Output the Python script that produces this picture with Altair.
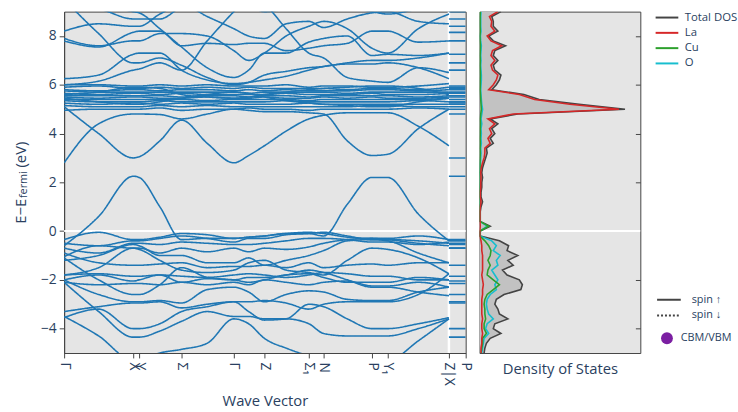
import altair as alt
import pandas as pd

FONT = "Open Sans"
TXT = "#2a3f5f"
AX = "#444444"

# ---------------- band structure data ----------------
K_NODES = [0.00, 0.35, 0.70, 0.76, 0.97, 1.19, 1.45, 1.72, 1.87, 2.03, 2.25, 2.48, 2.63, 2.87, 3.12, 3.28, 3.59, 3.90]
K_XP = [3.90, 4.07]
TICK_K = [0.0, 0.7, 0.76, 1.19, 1.72, 2.03, 2.48, 2.63, 3.12, 3.28, 3.9, 4.07]
TICK_LABELS = ["Γ", "X", "Y", "Σ", "Γ", "Z", "Σ₁", "N", "P", "Y₁", "Z|X", "P"]
Y_TICKS = [-4, -2, 0, 2, 4, 6, 8]

BANDS = [
    [-0.6, 0.6, 2.25, 2.2, 1.0, -0.35, -0.3, -0.3, -0.25, -0.2, -0.1, -0.1, -0.2, 1.1, 2.2, 2.2, 0.7, -0.4],
    [2.8, 4.4, 4.8, 4.8, 4.78, 4.6, 4.8, 5.0, 4.95, 4.9, 4.9, 4.85, 4.8, 3.7, 3.1, 3.15, 4.2, 5.0],
    [5.1, 4.0, 3.0, 3.05, 3.7, 4.55, 3.6, 2.8, 3.1, 3.5, 4.1, 4.6, 4.75, 4.85, 4.85, 4.85, 4.3, 3.5],
    [6.25, 6.4, 7.25, 7.3, 7.3, 6.6, 6.2, 6.05, 6.1, 6.2, 6.35, 6.6, 6.75, 6.85, 6.85, 6.9, 6.7, 6.25],
    [7.8, 7.55, 8.15, 8.2, 8.2, 7.6, 7.7, 7.65, 7.7, 7.7, 7.4, 7.5, 7.6, 7.7, 8.2, 8.2, 7.75, 7.8],
    [8.2, 8.5, 8.4, 8.4, 8.9, 9.3, 8.8, 8.3, 8.0, 7.9, 8.5, 8.6, 8.35, 8.7, 8.95, 9.0, 8.6, 8.5],
    [9.5, 8.1, 6.9, 6.9, 7.1, 6.8, 6.3, 6.0, 6.1, 6.4, 6.55, 6.7, 6.75, 6.9, 7.0, 7.0, 7.1, 7.3],
    [9.8, 9.3, 9.0, 8.95, 8.3, 7.55, 6.7, 6.3, 6.6, 7.3, 7.3, 7.75, 7.9, 8.0, 7.2, 7.25, 7.2, 7.3],
    [6.0, 6.15, 6.6, 6.65, 6.9, 6.6, 7.8, 9.0, 9.6, 9.3, 8.3, 7.3, 7.1, 6.3, 6.15, 6.1, 6.7, 6.5],
    [7.9, 7.6, 7.8, 7.8, 8.1, 8.1, 8.0, 7.4, 7.0, 7.3, 8.0, 8.4, 8.6, 8.3, 7.5, 7.3, 8.3, 8.9],
    [9.2, 9.1, 8.7, 8.7, 8.7, 9.2, 9.5, 9.5, 9.3, 9.0, 9.1, 9.2, 9.3, 9.2, 9.0, 8.9, 9.1, 9.2],
    [6.0, 6.0, 5.95, 5.95, 6.0, 5.95, 6.0, 5.95, 5.95, 5.95, 6.0, 5.9, 5.95, 5.95, 5.9, 5.9, 5.95, 6.05],
    [5.9, 5.95, 5.85, 5.85, 5.9, 5.85, 5.9, 5.85, 5.9, 5.85, 5.85, 5.85, 5.85, 5.8, 5.85, 5.85, 5.8, 5.9],
    [5.8, 5.75, 5.8, 5.8, 5.75, 5.8, 5.8, 5.75, 5.8, 5.75, 5.8, 5.75, 5.75, 5.75, 5.8, 5.8, 5.75, 5.8],
    [5.75, 5.7, 5.7, 5.7, 5.7, 5.7, 5.7, 5.7, 5.65, 5.7, 5.7, 5.7, 5.7, 5.65, 5.7, 5.7, 5.7, 5.7],
    [5.65, 5.6, 5.65, 5.65, 5.6, 5.65, 5.6, 5.6, 5.6, 5.6, 5.65, 5.6, 5.6, 5.6, 5.65, 5.6, 5.6, 5.65],
    [5.55, 5.55, 5.55, 5.55, 5.55, 5.5, 5.55, 5.55, 5.5, 5.55, 5.55, 5.5, 5.55, 5.55, 5.55, 5.55, 5.5, 5.55],
    [5.5, 5.45, 5.5, 5.5, 5.45, 5.45, 5.5, 5.45, 5.45, 5.5, 5.45, 5.45, 5.5, 5.45, 5.5, 5.45, 5.45, 5.5],
    [5.4, 5.4, 5.4, 5.4, 5.4, 5.4, 5.35, 5.4, 5.4, 5.4, 5.4, 5.35, 5.4, 5.4, 5.4, 5.4, 5.4, 5.45],
    [5.35, 5.3, 5.3, 5.3, 5.35, 5.3, 5.3, 5.3, 5.3, 5.3, 5.35, 5.3, 5.3, 5.3, 5.3, 5.3, 5.35, 5.3],
    [5.25, 5.2, 5.25, 5.25, 5.2, 5.25, 5.2, 5.25, 5.2, 5.2, 5.2, 5.25, 5.2, 5.2, 5.2, 5.2, 5.2, 5.2],
    [5.15, 5.1, 5.1, 5.1, 5.15, 5.1, 5.15, 5.1, 5.1, 5.1, 5.1, 5.1, 5.1, 5.1, 5.15, 5.15, 5.1, 5.1],
    [4.95, 5.0, 5.0, 5.0, 5.05, 4.95, 5.0, 5.0, 5.05, 5.0, 5.0, 4.95, 5.0, 5.0, 5.0, 5.0, 5.05, 5.0],
    [5.6, 5.7, 5.9, 5.9, 5.85, 5.6, 5.5, 5.45, 5.5, 5.6, 5.7, 5.8, 5.85, 5.9, 5.95, 5.95, 5.85, 5.6],
    [5.45, 5.3, 5.2, 5.2, 5.3, 5.45, 5.6, 5.7, 5.65, 5.5, 5.35, 5.25, 5.2, 5.15, 5.1, 5.1, 5.3, 5.45],
    [-0.35, -0.05, -0.35, -0.35, -0.25, -0.1, -0.15, -0.3, -0.25, -0.2, -0.1, -0.05, -0.1, -0.25, -0.3, -0.3, -0.2, -0.35],
    [-0.5, -0.6, -0.4, -0.4, -0.3, -0.2, -0.3, -0.45, -0.3, -0.3, -0.15, -0.1, -0.05, -0.2, -0.35, -0.35, -0.4, -0.5],
    [-0.7, -0.9, -0.5, -0.5, -0.55, -0.45, -0.5, -0.55, -0.55, -0.5, -0.4, -0.3, -0.3, -0.35, -0.45, -0.45, -0.55, -0.45],
    [-1.05, -0.6, -0.7, -0.7, -0.9, -0.7, -0.85, -0.7, -0.85, -0.7, -0.75, -0.65, -0.5, -0.35, -0.3, -0.35, -0.5, -0.6],
    [-1.2, -1.0, -0.55, -0.6, -1.0, -1.0, -1.3, -1.3, -1.1, -1.4, -1.2, -1.0, -0.8, -0.4, -0.35, -0.4, -0.9, -1.3],
    [-0.9, -1.3, -1.4, -1.4, -1.35, -1.3, -1.5, -1.45, -1.45, -1.4, -1.5, -1.3, -1.5, -1.4, -1.35, -1.4, -1.3, -1.3],
    [-1.8, -1.5, -0.7, -0.75, -1.2, -1.6, -1.7, -1.6, -1.3, -1.2, -1.6, -1.7, -1.8, -1.2, -0.7, -0.75, -1.1, -1.75],
    [-1.8, -1.75, -1.85, -1.85, -1.8, -1.85, -1.9, -1.8, -1.75, -1.8, -1.9, -1.8, -1.7, -1.75, -1.85, -1.85, -2.0, -2.0],
    [-2.0, -1.8, -2.05, -2.0, -1.8, -2.1, -1.95, -2.0, -2.1, -2.0, -1.8, -1.75, -1.9, -2.1, -2.1, -2.1, -1.9, -2.0],
    [-2.1, -2.2, -2.15, -2.15, -2.2, -2.1, -2.2, -2.1, -2.2, -2.0, -2.1, -2.2, -2.1, -2.05, -2.25, -2.25, -2.1, -2.3],
    [-1.1, -2.0, -2.6, -2.6, -2.2, -1.5, -1.9, -2.0, -1.9, -1.9, -1.8, -1.6, -1.7, -2.0, -2.3, -2.3, -2.5, -2.65],
    [-2.0, -2.6, -2.9, -2.9, -2.85, -2.95, -2.4, -2.3, -2.5, -2.9, -2.6, -2.45, -2.5, -2.8, -2.85, -2.85, -2.5, -2.3],
    [-3.3, -3.1, -2.95, -2.95, -2.9, -3.15, -3.0, -2.9, -2.9, -2.85, -2.95, -3.2, -3.0, -2.9, -2.9, -2.9, -2.6, -1.75],
    [-3.55, -3.2, -4.0, -4.0, -3.8, -3.3, -3.1, -2.9, -3.3, -3.65, -3.6, -3.0, -3.1, -3.6, -4.0, -4.0, -3.8, -3.55],
    [-2.1, -3.3, -4.35, -4.35, -4.1, -3.7, -3.3, -3.5, -3.5, -3.6, -3.6, -3.8, -4.2, -4.3, -4.3, -4.3, -4.0, -3.6],
    [-3.5, -4.3, -5.3, -5.3, -5.0, -4.85, -4.6, -3.6, -3.8, -4.4, -4.8, -5.1, -5.2, -5.4, -5.5, -5.4, -4.5, -3.6],
]

SPIN_LABELS = ["spin ↑", "spin ↓"]
EXTREMA_K = [0.35, 0.70]
EXTREMA_E = [-0.05, 2.25]
FERMI = [0.0]
BREAK_K = [3.90]

# ---------------- density of states data ----------------
E_GRID = [-5.0, -4.8, -4.6, -4.4, -4.2, -4.0, -3.8, -3.6, -3.4, -3.2,
          -3.0, -2.8, -2.6, -2.4, -2.2, -2.0, -1.8, -1.6, -1.4, -1.2,
          -1.0, -0.8, -0.6, -0.4, -0.2, 0.0, 0.2, 0.4, 0.6, 0.8,
          1.0, 1.2, 1.4, 1.6, 1.8, 2.0, 2.2, 2.4, 2.6, 2.8,
          3.0, 3.2, 3.4, 3.6, 3.8, 4.0, 4.2, 4.4, 4.6, 4.8,
          5.0, 5.2, 5.4, 5.6, 5.8, 6.0, 6.2, 6.4, 6.6, 6.8,
          7.0, 7.2, 7.4, 7.6, 7.8, 8.0, 8.2, 8.4, 8.6, 8.8,
          9.0]
DOS_TOTAL = [0.3, 0.35, 0.45, 0.7, 1.4, 0.9, 1.0, 1.85, 1.3, 1.2,
             1.0, 1.1, 1.6, 2.7, 2.8, 2.6, 1.8, 1.5, 2.2, 1.85,
             2.5, 1.8, 1.9, 1.3, 0.05, 0.05, 0.7, 0.05, 0.05, 0.05,
             0.1, 0.2, 0.1, 0.1, 0.15, 0.15, 0.2, 0.15, 0.2, 0.3,
             0.4, 0.5, 0.45, 0.9, 0.7, 1.0, 0.8, 1.2, 0.7, 2.5,
             9.5, 6.5, 3.9, 2.9, 0.8, 1.1, 1.3, 1.4, 1.0, 0.9,
             1.2, 0.9, 1.0, 1.7, 0.9, 0.6, 1.2, 0.9, 0.9, 0.8,
             1.4]
DOS_LA = [0.1, 0.1, 0.15, 0.15, 0.2, 0.15, 0.15, 0.2, 0.15, 0.15,
          0.15, 0.15, 0.2, 0.2, 0.25, 0.2, 0.15, 0.2, 0.2, 0.2,
          0.2, 0.15, 0.15, 0.1, 0.02, 0.02, 0.05, 0.03, 0.03, 0.03,
          0.05, 0.1, 0.05, 0.05, 0.08, 0.08, 0.1, 0.08, 0.12, 0.2,
          0.3, 0.35, 0.35, 0.7, 0.55, 0.8, 0.65, 1.0, 0.55, 2.2,
          9.1, 5.9, 3.6, 2.6, 0.6, 0.9, 1.1, 1.2, 0.85, 0.75,
          1.0, 0.75, 0.85, 1.45, 0.75, 0.5, 1.0, 0.75, 0.8, 0.65,
          1.2]
DOS_CU = [0.1, 0.15, 0.2, 0.2, 0.45, 0.3, 0.3, 0.4, 0.35, 0.35,
          0.3, 0.35, 0.5, 0.9, 1.3, 0.9, 0.5, 0.55, 0.7, 0.55,
          0.7, 0.75, 0.6, 0.35, 0.02, 0.03, 0.6, 0.02, 0.02, 0.02,
          0.02, 0.03, 0.02, 0.02, 0.02, 0.03, 0.03, 0.02, 0.03, 0.03,
          0.04, 0.05, 0.04, 0.05, 0.04, 0.05, 0.05, 0.06, 0.05, 0.08,
          0.12, 0.1, 0.08, 0.06, 0.04, 0.05, 0.05, 0.06, 0.05, 0.04,
          0.05, 0.04, 0.05, 0.06, 0.04, 0.03, 0.05, 0.04, 0.04, 0.04,
          0.05]
DOS_O = [0.15, 0.2, 0.25, 0.3, 0.6, 0.4, 0.5, 0.9, 0.6, 0.5,
         0.45, 0.5, 0.7, 1.1, 1.0, 1.2, 1.0, 0.8, 1.2, 1.1,
         1.35, 0.9, 1.1, 0.8, 0.02, 0.03, 0.5, 0.03, 0.03, 0.03,
         0.03, 0.05, 0.03, 0.03, 0.04, 0.05, 0.05, 0.04, 0.05, 0.06,
         0.08, 0.1, 0.08, 0.12, 0.1, 0.12, 0.1, 0.15, 0.1, 0.15,
         0.2, 0.15, 0.12, 0.1, 0.08, 0.1, 0.12, 0.12, 0.1, 0.08,
         0.1, 0.08, 0.1, 0.12, 0.08, 0.06, 0.1, 0.08, 0.08, 0.08,
         0.1]
SPECIES = ["Total DOS", "La", "Cu", "O"]
SPECIES_COLORS = ["#444444", "#d62728", "#2ca02c", "#17becf"]

# ---------------- tables ----------------
rows = []
for i, vals in enumerate(BANDS):
    for k, e in zip(K_NODES, vals):
        rows.append({"seg": f"m{i}", "k": k, "E": e, "spin": SPIN_LABELS[0]})
    for k in K_XP:
        rows.append({"seg": f"x{i}", "k": k, "E": vals[2], "spin": SPIN_LABELS[0]})
bands_df = pd.DataFrame(rows)

ext_df = pd.DataFrame({"k": EXTREMA_K, "E": EXTREMA_E, "kind": ["CBM/VBM"] * len(EXTREMA_K)})
fermi_df = pd.DataFrame({"E": FERMI})
break_df = pd.DataFrame({"k": BREAK_K})

dos_tables = {
    name: pd.DataFrame({"E": E_GRID, "d": vals, "species": name})
    for name, vals in zip(SPECIES, [DOS_TOTAL, DOS_LA, DOS_CU, DOS_O])
}

# ---------------- scales / axes ----------------
x_band = alt.Scale(domain=[0, 4.07], nice=False, zero=False)
y_scale = alt.Scale(domain=[-5, 9], nice=False, zero=False)
x_dos = alt.Scale(domain=[0, 10.5], nice=False, zero=True)

label_expr = ("[" + ",".join(f"'{l}'" for l in TICK_LABELS) + "][indexof(["
              + ",".join(str(v) for v in TICK_K) + "], datum.value)]")

x_axis = alt.Axis(values=TICK_K, labelExpr=label_expr, labelAngle=90, labelAlign="left",
                  labelBaseline="middle", labelFontSize=14, labelColor=TXT, labelFont=FONT,
                  labelPadding=4, labelOverlap=False, labelFlush=False, labelBound=False,
                  tickSize=5, tickColor=AX, domainColor=AX, grid=False,
                  title="Wave Vector", titleFontSize=15, titleFont=FONT, titleColor=TXT,
                  titleFontWeight="normal", titleY=48, titleBaseline="middle")
y_axis = alt.Axis(values=Y_TICKS, labelFontSize=14, labelColor=TXT, labelFont=FONT,
                  tickSize=5, tickColor=AX, domainColor=AX, grid=False, title=None,
                  labelPadding=3)

path_sym = "M-2.3,0L2.3,0"

spin_legend = alt.Legend(title=None, orient="none", legendX=607, legendY=286, symbolType="M-2.4,0L2.4,0",
                         symbolSize=100, symbolStrokeWidth=2, symbolStrokeColor=AX,
                         labelFontSize=11, labelFont=FONT, labelColor=TXT, labelOffset=17,
                         rowPadding=5, padding=0)
ext_legend = alt.Legend(title=None, orient="none", legendX=605, legendY=325, symbolType="circle",
                        symbolSize=144, symbolOpacity=1, symbolStrokeWidth=0,
                        labelFontSize=11, labelFont=FONT, labelColor=TXT, labelOffset=8, padding=0)
color_legend = alt.Legend(title=None, orient="none", legendX=605, legendY=0, symbolType=path_sym,
                          symbolSize=100, symbolStrokeWidth=2, labelFontSize=11.5, labelFont=FONT,
                          labelColor=TXT, labelOffset=12, rowPadding=3.5, padding=0)
color_scale = alt.Scale(domain=SPECIES, range=SPECIES_COLORS)

# ---------------- band panel ----------------
fermi_rule = alt.Chart(fermi_df).mark_rule(color="white", strokeWidth=2).encode(
    y=alt.Y("E:Q", scale=y_scale, axis=y_axis))
break_rule = alt.Chart(break_df).mark_rule(color="white", strokeWidth=2.5).encode(
    x=alt.X("k:Q", scale=x_band, axis=x_axis))

bands = alt.Chart(bands_df).mark_line(interpolate="monotone", clip=True, strokeWidth=1.6,
                                      color="#1f77b4").encode(
    x=alt.X("k:Q", scale=x_band, axis=x_axis),
    y=alt.Y("E:Q", scale=y_scale, axis=y_axis),
    detail="seg:N",
    strokeDash=alt.StrokeDash("spin:N", scale=alt.Scale(domain=SPIN_LABELS, range=[[1, 0], [2, 2]]),
                              legend=spin_legend),
)

extrema = alt.Chart(ext_df).mark_circle(opacity=0, size=100).encode(
    x=alt.X("k:Q", scale=x_band, axis=x_axis),
    y=alt.Y("E:Q", scale=y_scale, axis=y_axis),
    fill=alt.Fill("kind:N", scale=alt.Scale(domain=["CBM/VBM"], range=["#7b1fa2"]), legend=ext_legend),
)

title_parts = [("E−E", 15, -44, 215), ("fermi", 11, -41, 189), ("(eV)", 15, -44, 158)]
title_layers = []
for txt, fs, xx, yy in title_parts:
    title_layers.append(
        alt.Chart(pd.DataFrame({"t": [txt]})).mark_text(
            angle=270, align="left", baseline="middle", fontSize=fs, font=FONT, color=TXT
        ).encode(text="t:N", x=alt.value(xx), y=alt.value(yy))
    )

left = alt.layer(fermi_rule, break_rule, bands, extrema, *title_layers).properties(width=407, height=346)

# ---------------- DOS panel ----------------
dos_x_axis = alt.Axis(labels=False, ticks=False, domain=False, grid=False, title="Density of States",
                      titleFontSize=15, titleFont=FONT, titleColor=TXT, titleFontWeight="normal",
                      titleY=16, titleBaseline="middle")
dos_y_axis = alt.Axis(values=Y_TICKS, orient="right", labels=False, domain=False, offset=-5,
                      tickSize=5, tickColor=AX, grid=False, title=None)

dos_fermi = alt.Chart(fermi_df).mark_rule(color="white", strokeWidth=2).encode(
    y=alt.Y("E:Q", scale=y_scale, axis=dos_y_axis))
dos_area = alt.Chart(dos_tables["Total DOS"]).mark_area(orient="horizontal", color="#c2c2c2",
                                                        clip=True).encode(
    x=alt.X("d:Q", scale=x_dos, axis=dos_x_axis),
    y=alt.Y("E:Q", scale=y_scale, axis=dos_y_axis),
)
dos_lines = []
for name in ["Total DOS", "O", "Cu", "La"]:
    dos_lines.append(
        alt.Chart(dos_tables[name]).mark_line(clip=True, strokeWidth=1.6).encode(
            x=alt.X("d:Q", scale=x_dos, axis=dos_x_axis),
            y=alt.Y("E:Q", scale=y_scale, axis=dos_y_axis),
            order=alt.Order("E:Q"),
            color=alt.Color("species:N", scale=color_scale, legend=color_legend),
        )
    )

right = alt.layer(dos_fermi, dos_area, *dos_lines).properties(width=163, height=346)

chart = alt.hconcat(left, right, spacing=4).resolve_scale(
    x="independent", y="independent"
).properties(
    padding={"left": 13, "top": 7, "right": 0, "bottom": 0}
).configure(font=FONT).configure_view(fill="#e5e5e5", stroke=AX, strokeWidth=1)

chart.save("out.html", embed_options={"renderer": "svg", "actions": False})
